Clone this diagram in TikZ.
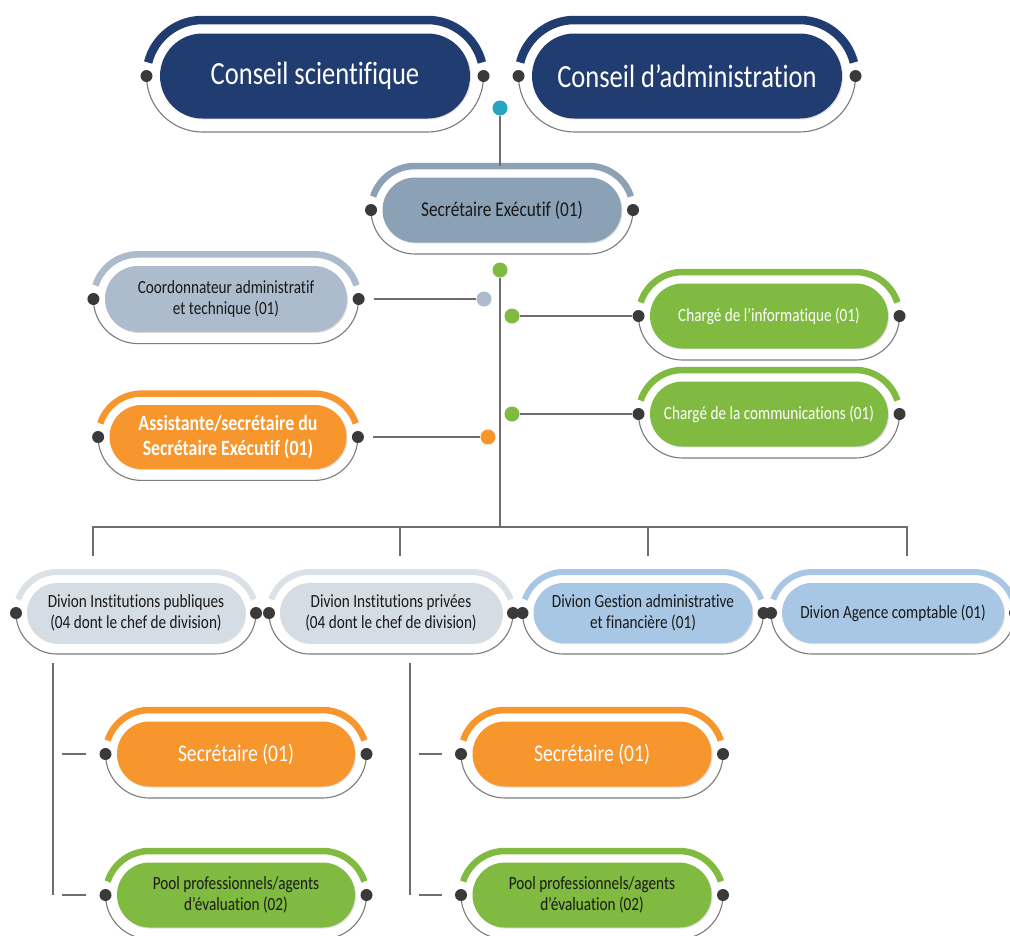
\documentclass[tikz,border=0pt]{standalone}
\usepackage{fontspec}
\setmainfont{Carlito}[FakeStretch=0.82, Ligatures=NoCommon]
\usepackage{tikz}
\usetikzlibrary{shadows}
\definecolor{navy}{RGB}{33, 60, 112}
\definecolor{slate}{RGB}{139, 161, 182}
\definecolor{mist}{RGB}{172, 188, 204}
\definecolor{tangerine}{RGB}{246, 150, 45}
\definecolor{leaf}{RGB}{128, 186, 65}
\definecolor{pale}{RGB}{213, 221, 228}
\definecolor{palearc}{RGB}{219, 225, 230}
\definecolor{sky}{RGB}{167, 199, 229}
\definecolor{cyanpin}{RGB}{37, 163, 192}
\definecolor{pindark}{RGB}{58, 58, 58}
\definecolor{linkgray}{RGB}{110, 110, 110}
\definecolor{rimgray}{RGB}{125, 125, 125}
\definecolor{inkdark}{RGB}{25, 25, 25}
\def\px{0.025cm}

% pill with its arc, rim and the two end pins
% #1 name, #2 x, #3 y, #4 width, #5 height, #6 style, #7 arc colour, #8 text
\newcommand{\orgpill}[8]{%
  \pgfmathsetmacro\pillR{#5/2+#5*0.1+5}%
  \pgfmathsetmacro\pillXl{#2-#4/2+#5/2}%
  \pgfmathsetmacro\pillXr{#2+#4/2-#5/2}%
  \pgfmathsetmacro\pillA{asin(13.5/\pillR)}%
  \draw[line width=#5*0.1*\px, draw=#7]
    ({\pillXl-\pillR*cos(\pillA)},{#3-13.5}) arc[start angle=180+\pillA, end angle=270, radius=\pillR]
    -- (\pillXr,{#3-\pillR}) arc[start angle=270, end angle=360-\pillA, radius=\pillR];
  \draw[rim] ({\pillXl-\pillR},#3) arc[start angle=180, end angle=90, radius=\pillR]
    -- (\pillXr,{#3+\pillR}) arc[start angle=90, end angle=0, radius=\pillR];
  \node[pill, #6, minimum width=#4*\px, minimum height=#5*\px, rounded corners=#5*0.5*\px] (#1) at (#2,#3) {#8};
  \node[pin] (#1-l) at ({\pillXl-\pillR},#3) {};
  \node[pin] (#1-r) at ({\pillXr+\pillR},#3) {};
  \coordinate (#1-t) at (#2,{#3-\pillR});
}

\begin{document}
\begin{tikzpicture}[
  x=\px, y=-\px,
  pill/.style={draw=none, inner sep=0pt, align=center,
    drop shadow={opacity=0.25, shadow xshift=0.7pt, shadow yshift=-0.7pt}},
  navybox/.style={fill=navy, text=white, font=\fontsize{23}{26}\selectfont},
  slatebox/.style={fill=slate, text=inkdark, font=\fontsize{15}{18}\selectfont},
  mistbox/.style={fill=mist, text=inkdark, font=\fontsize{13.2}{14.8}\selectfont},
  orangebox/.style={fill=tangerine, text=white, font=\fontsize{15.5}{17.2}\selectfont\bfseries},
  greenbox/.style={fill=leaf, text=white, font=\fontsize{13.2}{14.8}\selectfont},
  palebox/.style={fill=pale, text=inkdark, font=\fontsize{13.2}{14.8}\selectfont},
  skybox/.style={fill=sky, text=inkdark, font=\fontsize{13.2}{14.8}\selectfont},
  secbox/.style={fill=tangerine, text=white, font=\fontsize{17}{20}\selectfont},
  poolbox/.style={fill=leaf, text=inkdark, font=\fontsize{13.2}{14.8}\selectfont},
  rim/.style={draw=rimgray, line width=0.8pt},
  pin/.style={circle, fill=pindark, inner sep=0pt, minimum size=12*\px},
  junction/.style={circle, inner sep=0pt, minimum size=15*\px},
  link/.style={draw=linkgray, line width=1.5pt}
]
\fill[white] (0,0) rectangle (1010,935);
\useasboundingbox (0,0) rectangle (1010,935);

% Councils
\orgpill{cs}{315}{76}{310}{85}{navybox}{navy}{Conseil scientifique}
\orgpill{ca}{687}{76}{310}{85}{navybox}{navy}{Conseil d’administration}

% Executive secretary
\orgpill{se}{502}{210}{239}{65}{slatebox}{slate}{Secrétaire Exécutif (01)}

% Staff
\orgpill{coord}{226}{299}{242}{66}{mistbox}{mist}{Coordonnateur administratif\\et technique (01)}
\orgpill{asst}{228}{437}{237}{64}{orangebox}{tangerine}{Assistante/secrétaire du\\Secrétaire Exécutif (01)}
\orgpill{info}{769}{316}{238}{65}{greenbox}{leaf}{Chargé de l’informatique (01)}
\orgpill{comm}{769}{414}{238}{65}{greenbox}{leaf}{Chargé de la communications (01)}

% Divisions
\orgpill{divpub}{136}{613}{218}{60}{palebox}{palearc}{Divion Institutions publiques\\(04 dont le chef de division)}
\orgpill{divpriv}{391}{613}{222}{60}{palebox}{palearc}{Divion Institutions privées\\(04 dont le chef de division)}
\orgpill{divgaf}{643}{613}{219}{60}{skybox}{sky}{Divion Gestion administrative\\et financière (01)}
\orgpill{divac}{893}{613}{222}{60}{skybox}{sky}{Divion Agence comptable (01)}

% Division staff
\orgpill{secpub}{236}{754}{238}{65}{secbox}{tangerine}{Secrétaire (01)}
\orgpill{poolpub}{236}{895}{238}{65}{poolbox}{leaf}{Pool professionnels/agents\\d’évaluation (02)}
\orgpill{secpriv}{592}{754}{239}{65}{secbox}{tangerine}{Secrétaire (01)}
\orgpill{poolpriv}{592}{895}{239}{65}{poolbox}{leaf}{Pool professionnels/agents\\d’évaluation (02)}

% Junctions
\node[junction, fill=cyanpin] (jcs) at (500,108) {};
\node[junction, fill=leaf] (jtop) at (500,270) {};
\node[junction, fill=mist] (jcoord) at (484,299) {};
\node[junction, fill=tangerine] (jasst) at (488,437) {};
\node[junction, fill=leaf] (jinfo) at (512,316) {};
\node[junction, fill=leaf] (jcomm) at (512,414) {};

% Bus and columns
\coordinate (bus) at (500,527);
\coordinate (b1) at (93,527);
\coordinate (b4) at (907,527);
\coordinate (d1) at (93,556);
\coordinate (d2) at (400,556);
\coordinate (d3) at (648,556);
\coordinate (d4) at (907,556);
\coordinate (pubcol) at (53,663);
\coordinate (privcol) at (410,663);

% Links
\draw[link] (jcs) -- (jcs |- se-t);
\draw[link] (jtop) -- (bus);
\draw[link, shorten <=9*\px] (coord-r) -- (jcoord);
\draw[link, shorten <=9*\px] (asst-r) -- (jasst);
\draw[link] (jinfo) -- (info-l);
\draw[link] (jcomm) -- (comm-l);
\draw[link] (d1) -- (b1) -- (b4) -- (d4);
\draw[link] (d2) -- (d2 |- bus);
\draw[link] (d3) -- (d3 |- bus);
\draw[link] (pubcol) -- (pubcol |- poolpub-l);
\draw[link] (privcol) -- (privcol |- poolpriv-l);
\draw[link, shorten <=9*\px, shorten >=13*\px] (pubcol |- secpub-l) -- (secpub-l);
\draw[link, shorten <=9*\px, shorten >=13*\px] (pubcol |- poolpub-l) -- (poolpub-l);
\draw[link, shorten <=9*\px, shorten >=13*\px] (privcol |- secpriv-l) -- (secpriv-l);
\draw[link, shorten <=9*\px, shorten >=13*\px] (privcol |- poolpriv-l) -- (poolpriv-l);

\end{tikzpicture}
\end{document}
